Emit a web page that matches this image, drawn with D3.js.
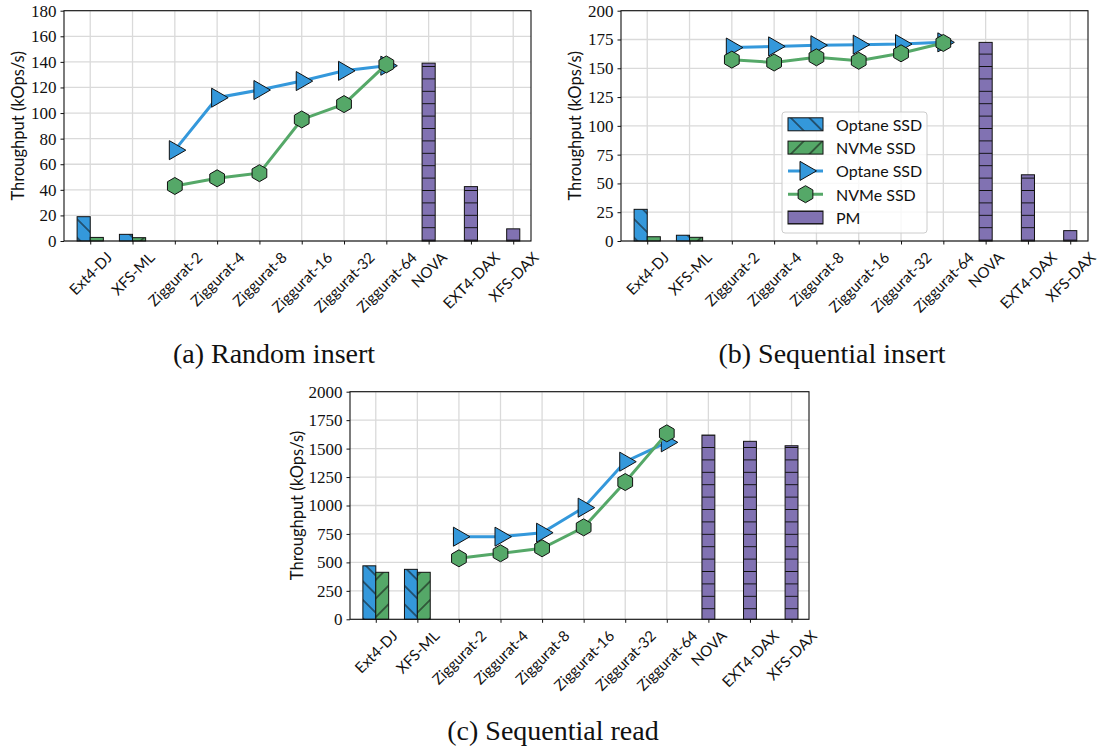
<!DOCTYPE html>
<html>
<head>
<meta charset="utf-8">
<script src="https://cdn.jsdelivr.net/npm/d3@7"></script>
<style>
  body { margin: 0; background: #fff; }
  svg text { fill: #111; }
</style>
</head>
<body>
<svg id="chart"></svg>
<script>
"use strict";

// ---------------------------- DATA ---------------------------- //
const categories = ["Ext4-DJ", "XFS-ML", "Ziggurat-2", "Ziggurat-4", "Ziggurat-8",
  "Ziggurat-16", "Ziggurat-32", "Ziggurat-64", "NOVA", "EXT4-DAX", "XFS-DAX"];

const baseNames = ["Ext4-DJ", "XFS-ML"];
const zigNames  = ["Ziggurat-2", "Ziggurat-4", "Ziggurat-8", "Ziggurat-16", "Ziggurat-32", "Ziggurat-64"];
const pmNames   = ["NOVA", "EXT4-DAX", "XFS-DAX"];

// (a) Random insert
const randBaseOptane = [19, 5.2];
const randBaseNvme   = [2.8, 2.6];
const randZigOptane  = [71, 112, 118, 125, 133, 137];
const randZigNvme    = [43, 49, 53, 95, 107, 138];
const randPm         = [139, 42.5, 9.5];
const randTicks      = [0, 20, 40, 60, 80, 100, 120, 140, 160, 180];

// (b) Sequential insert
const seqInsBaseOptane = [27.5, 5];
const seqInsBaseNvme   = [3.7, 3.2];
const seqInsZigOptane  = [168, 169, 170, 170.5, 171, 172.5];
const seqInsZigNvme    = [157.5, 155, 159.5, 156.5, 163, 172];
const seqInsPm         = [172.5, 57.5, 9];
const seqInsTicks      = [0, 25, 50, 75, 100, 125, 150, 175, 200];

// (c) Sequential read
const seqReadBaseOptane = [470, 439];
const seqReadBaseNvme   = [413, 413];
const seqReadZigOptane  = [726, 726, 761, 981, 1385, 1555];
const seqReadZigNvme    = [536, 580, 624, 808, 1206, 1634];
const seqReadPm         = [1619, 1564, 1525];
const seqReadTicks      = [0, 250, 500, 750, 1000, 1250, 1500, 1750, 2000];

const legendLabels = ["Optane SSD", "NVMe SSD", "Optane SSD", "NVMe SSD", "PM"];

// ---------------------------- STYLE ---------------------------- //
const BLUE = "#3498db";
const GREEN = "#55a868";
const PURPLE = "#8172b2";
const GRID = "#dadada";
const SERIF = "'Liberation Serif', 'Times New Roman', serif";
const SANS = "Lato, 'Open Sans', sans-serif";

const svg = d3.select("#chart").attr("width", 1101).attr("height", 750);

// hatch patterns (matplotlib style: "\\", "/", "-")
const defs = svg.append("defs");
function hatch(id, color, angle, gap) {
  const p = defs.append("pattern")
    .attr("id", id)
    .attr("patternUnits", "userSpaceOnUse")
    .attr("width", 20).attr("height", gap)
    .attr("patternTransform", `rotate(${angle})`);
  p.append("rect").attr("width", 20).attr("height", gap).attr("fill", color);
  p.append("line").attr("x1", -1).attr("x2", 21).attr("y1", gap / 2).attr("y2", gap / 2)
    .attr("stroke", "#111").attr("stroke-width", 1);
}
hatch("h-optane", BLUE, 45, 18.6 / Math.SQRT2);
hatch("h-nvme", GREEN, -45, 18.6 / Math.SQRT2);
hatch("h-pm", PURPLE, 0, 12.4);

// marker paths
const triPath = (r) => `M${r},0L${-r / 2},${-r * 0.866}L${-r / 2},${r * 0.866}Z`;
const hexPath = (r) => d3.range(6).map(k => {
  const a = Math.PI / 2 + k * Math.PI / 3;
  return `${k ? "L" : "M"}${r * Math.cos(a)},${r * Math.sin(a)}`;
}).join("") + "Z";

// ---------------------------- PANEL ---------------------------- //
function drawPanel(cfg) {
  const g = svg.append("g").attr("transform", `translate(${cfg.left},${cfg.top})`);
  const w = cfg.width, h = cfg.height;

  const x = d3.scaleLinear().domain([-0.62, 10.42]).range([0, w]);
  const xc = name => x(categories.indexOf(name));
  const y = d3.scaleLinear().domain([0, cfg.yMax]).range([h, 0]);
  const step = x(1) - x(0);
  const bw = step * 0.31;

  // grid
  g.append("g").selectAll("line").data(cfg.ticks).join("line")
    .attr("x1", 0).attr("x2", w).attr("y1", d => y(d)).attr("y2", d => y(d))
    .attr("stroke", GRID).attr("stroke-width", 1.3);
  g.append("g").selectAll("line").data(categories).join("line")
    .attr("x1", d => xc(d)).attr("x2", d => xc(d)).attr("y1", 0).attr("y2", h)
    .attr("stroke", GRID).attr("stroke-width", 1.3);

  // grouped bars for baselines
  g.append("g").selectAll("rect").data(baseNames).join("rect")
    .attr("x", d => xc(d) - bw).attr("width", bw)
    .attr("y", (d, i) => y(cfg.baseOptane[i])).attr("height", (d, i) => h - y(cfg.baseOptane[i]))
    .attr("fill", "url(#h-optane)").attr("stroke", "#111").attr("stroke-width", 1);
  g.append("g").selectAll("rect").data(baseNames).join("rect")
    .attr("x", d => xc(d)).attr("width", bw)
    .attr("y", (d, i) => y(cfg.baseNvme[i])).attr("height", (d, i) => h - y(cfg.baseNvme[i]))
    .attr("fill", "url(#h-nvme)").attr("stroke", "#111").attr("stroke-width", 1);

  // PM bars
  g.append("g").selectAll("rect").data(pmNames).join("rect")
    .attr("x", d => xc(d) - bw / 2).attr("width", bw)
    .attr("y", (d, i) => y(cfg.pm[i])).attr("height", (d, i) => h - y(cfg.pm[i]))
    .attr("fill", "url(#h-pm)").attr("stroke", "#111").attr("stroke-width", 1);

  // lines
  const series = [
    { vals: cfg.zigOptane, color: BLUE, marker: triPath(11) },
    { vals: cfg.zigNvme, color: GREEN, marker: hexPath(8.5) }
  ];
  series.forEach(s => {
    const pts = zigNames.map((n, i) => [xc(n), y(s.vals[i])]);
    g.append("path").attr("d", d3.line()(pts))
      .attr("fill", "none").attr("stroke", s.color).attr("stroke-width", 3);
    g.append("g").selectAll("path").data(pts).join("path")
      .attr("transform", d => `translate(${d[0]},${d[1]})`)
      .attr("d", s.marker).attr("fill", s.color).attr("stroke", "#111").attr("stroke-width", 1);
  });

  // frame
  g.append("rect").attr("width", w).attr("height", h)
    .attr("fill", "none").attr("stroke", "#111").attr("stroke-width", 1.1);

  // y axis
  const yAx = g.append("g").call(d3.axisLeft(y).tickValues(cfg.ticks)
    .tickFormat(d3.format("d")).tickSize(3.5).tickPadding(4));
  yAx.select(".domain").remove();
  yAx.selectAll("text").style("font-family", SERIF).style("font-size", "17px").attr("fill", "#111");
  yAx.selectAll("line").attr("stroke", "#111");

  // x axis ticks
  const xAx = g.append("g").attr("transform", `translate(0,${h})`)
    .call(d3.axisBottom(x).tickValues(d3.range(categories.length)).tickSize(3.5).tickFormat(""));
  xAx.select(".domain").remove();
  xAx.selectAll("line").attr("stroke", "#111");

  // rotated x labels, centred under the tick like matplotlib rotation=45
  categories.forEach((c, i) => {
    const t = g.append("text")
      .style("font-family", SANS).style("font-size", "15px")
      .attr("text-anchor", "middle").attr("dominant-baseline", "central")
      .text(c);
    const L = t.node().getComputedTextLength();
    const cy = h + 8 + (L + 15) / (2 * Math.SQRT2);
    t.attr("transform", `translate(${x(i)},${cy}) rotate(-45)`);
  });

  // y label
  g.append("text")
    .attr("transform", `translate(${cfg.yLabelX},${h / 2}) rotate(-90)`)
    .attr("text-anchor", "middle").attr("dominant-baseline", "central")
    .style("font-family", SANS).style("font-size", "16.5px")
    .text("Throughput (kOps/s)");

  // caption
  svg.append("text")
    .attr("x", cfg.captionX).attr("y", cfg.captionY)
    .attr("text-anchor", "middle")
    .style("font-family", SERIF).style("font-size", "28px")
    .text(cfg.caption);

  return { g, x, y };
}

drawPanel({
  left: 64, top: 10.7, width: 467, height: 230.3, yMax: 180, ticks: randTicks,
  baseOptane: randBaseOptane, baseNvme: randBaseNvme, zigOptane: randZigOptane,
  zigNvme: randZigNvme, pm: randPm, yLabelX: -46,
  caption: "(a) Random insert", captionX: 274, captionY: 363
});

const pb = drawPanel({
  left: 621, top: 10.7, width: 467, height: 230.3, yMax: 200, ticks: seqInsTicks,
  baseOptane: seqInsBaseOptane, baseNvme: seqInsBaseNvme, zigOptane: seqInsZigOptane,
  zigNvme: seqInsZigNvme, pm: seqInsPm, yLabelX: -46,
  caption: "(b) Sequential insert", captionX: 832, captionY: 363
});

drawPanel({
  left: 350, top: 391.7, width: 459, height: 227.6, yMax: 2000, ticks: seqReadTicks,
  baseOptane: seqReadBaseOptane, baseNvme: seqReadBaseNvme, zigOptane: seqReadZigOptane,
  zigNvme: seqReadZigNvme, pm: seqReadPm, yLabelX: -53,
  caption: "(c) Sequential read", captionX: 553, captionY: 740
});

// ---------------------------- LEGEND (panel b) ---------------------------- //
const leg = pb.g.append("g").attr("transform", "translate(161,101.3)");
leg.append("rect").attr("width", 145).attr("height", 121).attr("rx", 3)
  .attr("fill", "#fff").attr("fill-opacity", 0.8).attr("stroke", "#ccc");

const legendKinds = ["h-optane", "h-nvme", "line-optane", "line-nvme", "h-pm"];
legendKinds.forEach((k, i) => {
  const row = leg.append("g").attr("transform", `translate(6,${12.3 + i * 23.3})`);
  if (k.startsWith("h-")) {
    row.append("rect").attr("x", 0).attr("y", -6.5).attr("width", 35).attr("height", 13)
      .attr("fill", `url(#${k})`).attr("stroke", "#111");
  } else {
    const c = k === "line-optane" ? BLUE : GREEN;
    row.append("line").attr("x1", 0).attr("x2", 35).attr("stroke", c).attr("stroke-width", 3);
    row.append("path").attr("transform", "translate(17.5,0)")
      .attr("d", k === "line-optane" ? triPath(11) : hexPath(8.5))
      .attr("fill", c).attr("stroke", "#111");
  }
  row.append("text").attr("x", 48).attr("dominant-baseline", "central")
    .style("font-family", SANS).style("font-size", "16px")
    .text(legendLabels[i]);
});
</script>
</body>
</html>
